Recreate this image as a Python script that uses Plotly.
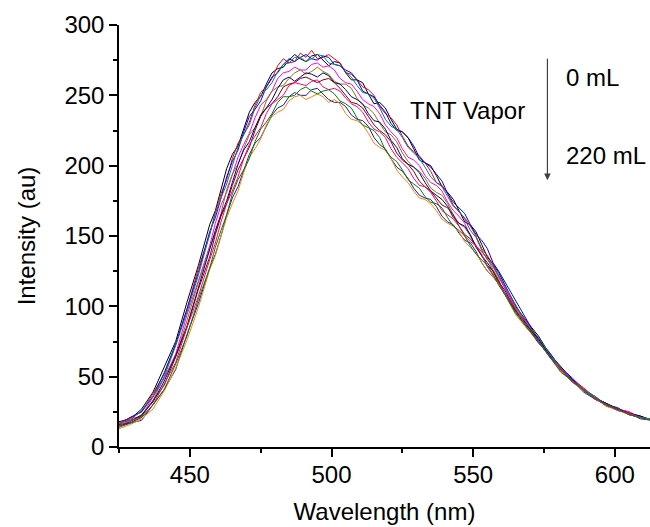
import plotly.graph_objects as go

# Wavelength sampling (nm): 4 nm on the flanks, 2 nm across the noisy peak region
wavelength = ([425, 429, 433, 437, 441, 445, 449, 453, 457]
              + list(range(459, 562, 2))
              + [565, 569, 573, 577, 581, 585, 589, 593, 597, 601, 605, 609, 613])

# Intensity (au) of each spectrum
black = [18, 20, 27, 39, 57, 75, 103, 129, 158,
         168, 183, 198, 208, 214, 226, 238, 245, 249, 258, 266, 269, 270, 275, 279, 276, 274, 278, 279, 275,
         271, 274, 273, 266, 261, 261, 259, 251, 244, 245, 241, 233, 226, 224, 220, 212, 204, 202, 200, 193,
         185, 181, 176, 168, 160, 158, 153, 144, 135, 130, 124, 116,
         100, 89, 79, 66, 57, 48, 40, 35, 31, 27, 24, 22, 19]
red = [17, 21, 25, 38, 52, 73, 98, 127, 151,
       167, 180, 190, 205, 216, 222, 231, 243, 252, 256, 262, 271, 276, 273, 274, 280, 277, 282, 276, 277,
       279, 276, 273, 266, 265, 261, 256, 254, 250, 242, 237, 234, 229, 221, 214, 210, 207, 202, 196, 188,
       186, 180, 172, 167, 163, 157, 150, 141, 136, 130, 121, 114,
       99, 89, 77, 67, 55, 48, 42, 35, 29, 27, 25, 21, 19]
blue = [16, 21, 25, 36, 53, 73, 98, 124, 153,
        163, 177, 192, 203, 211, 224, 235, 240, 246, 256, 263, 266, 272, 276, 274, 277, 279, 276, 275, 278,
        277, 272, 271, 268, 266, 261, 253, 251, 249, 243, 238, 230, 225, 224, 220, 214, 206, 202, 199, 194,
        189, 180, 174, 170, 166, 158, 151, 147, 141, 131, 125, 118,
        104, 90, 76, 67, 56, 49, 41, 34, 30, 28, 23, 21, 19]
dark_cyan = [17, 19, 26, 36, 50, 72, 96, 122, 151,
             166, 177, 187, 200, 213, 222, 229, 241, 250, 254, 259, 267, 272, 273, 277, 277, 274, 276, 279, 278,
             273, 272, 271, 267, 263, 257, 252, 251, 248, 241, 233, 228, 226, 220, 213, 209, 205, 199, 192, 188,
             185, 178, 171, 168, 162, 154, 149, 140, 133, 129, 122, 114,
             100, 87, 78, 66, 56, 47, 41, 36, 30, 26, 24, 21, 20]
magenta = [17, 19, 22, 36, 49, 66, 94, 118, 143,
           159, 172, 181, 193, 206, 215, 223, 234, 243, 247, 253, 262, 266, 267, 270, 268, 268, 272, 273, 270,
           271, 268, 262, 259, 258, 253, 247, 244, 242, 237, 229, 224, 220, 212, 206, 204, 200, 193, 188, 186,
           182, 174, 168, 164, 159, 150, 143, 139, 134, 128, 121, 113,
           99, 88, 76, 65, 56, 48, 41, 36, 30, 27, 25, 21, 19]
olive = [16, 20, 22, 33, 50, 64, 90, 117, 141,
         152, 166, 183, 194, 201, 212, 222, 227, 235, 246, 253, 256, 257, 262, 266, 268, 265, 267, 270, 267,
         265, 260, 258, 258, 255, 248, 243, 241, 237, 230, 224, 222, 217, 209, 203, 199, 196, 191, 184, 181,
         179, 173, 165, 159, 156, 150, 143, 139, 134, 126, 119, 110,
         99, 87, 75, 66, 55, 47, 41, 34, 30, 27, 24, 21, 19]
navy = [15, 18, 23, 32, 47, 65, 86, 113, 140,
        154, 165, 175, 188, 201, 211, 217, 227, 236, 241, 247, 255, 261, 263, 260, 263, 266, 265, 263, 266,
        264, 259, 258, 254, 249, 247, 244, 237, 232, 231, 226, 218, 213, 205, 201, 199, 195, 188, 182, 179,
        176, 171, 163, 159, 157, 151, 142, 136, 131, 125, 117, 112,
        97, 86, 77, 65, 54, 48, 40, 35, 29, 27, 24, 22, 19]
wine = [16, 17, 22, 33, 44, 64, 85, 112, 135,
        151, 164, 173, 186, 197, 205, 213, 225, 235, 241, 244, 249, 256, 258, 259, 262, 263, 261, 259, 261,
        262, 259, 255, 250, 245, 244, 241, 235, 229, 225, 222, 217, 209, 204, 201, 196, 189, 185, 182, 177,
        172, 170, 165, 157, 151, 148, 143, 136, 129, 125, 118, 109,
        97, 87, 75, 64, 55, 48, 40, 35, 31, 27, 23, 21, 19]
pink = [15, 19, 21, 30, 45, 60, 85, 107, 133,
        145, 160, 173, 182, 192, 205, 215, 221, 227, 237, 244, 247, 250, 257, 259, 258, 257, 260, 261, 256,
        254, 255, 253, 248, 244, 242, 238, 231, 226, 224, 220, 212, 206, 202, 198, 191, 186, 185, 181, 175,
        168, 165, 162, 157, 150, 146, 143, 137, 128, 122, 117, 110,
        98, 85, 75, 64, 55, 46, 41, 34, 30, 26, 24, 21, 19]
green = [14, 17, 21, 30, 41, 59, 79, 105, 127,
         142, 154, 165, 180, 190, 197, 205, 217, 226, 231, 237, 245, 249, 249, 250, 254, 256, 253, 251, 253,
         254, 251, 246, 244, 241, 234, 229, 227, 225, 220, 211, 206, 203, 197, 190, 187, 184, 178, 174, 173,
         170, 163, 157, 154, 150, 143, 137, 133, 129, 123, 115, 109,
         95, 85, 75, 64, 53, 47, 40, 35, 30, 27, 23, 21, 19]
royal = [15, 17, 19, 30, 41, 55, 80, 102, 127,
         137, 150, 165, 177, 185, 196, 208, 216, 220, 228, 236, 241, 243, 249, 252, 250, 250, 254, 255, 251,
         247, 245, 245, 242, 236, 233, 232, 228, 220, 215, 212, 205, 199, 196, 191, 184, 179, 177, 176, 171,
         164, 160, 158, 152, 147, 145, 139, 131, 125, 121, 116, 109,
         96, 85, 74, 65, 54, 47, 39, 34, 31, 27, 24, 20, 19]
orange = [13, 16, 20, 27, 40, 56, 76, 99, 126,
          136, 150, 163, 173, 182, 195, 206, 212, 219, 229, 235, 238, 240, 246, 249, 250, 247, 249, 251, 249,
          245, 247, 244, 237, 233, 232, 229, 223, 216, 213, 211, 205, 197, 192, 188, 182, 177, 176, 173, 168,
          162, 159, 157, 153, 146, 142, 138, 131, 125, 121, 116, 109,
          94, 84, 75, 64, 54, 46, 40, 35, 29, 26, 23, 21, 19]

series = [
    (black, "#000000"), (red, "#FF0000"), (blue, "#0000FF"), (magenta, "#FF00FF"),
    (olive, "#808000"), (navy, "#000080"), (wine, "#800000"), (dark_cyan, "#008080"),
    (royal, "#1C1CB4"), (orange, "#FF8000"), (pink, "#FF0080"), (green, "#008000"),
]

x_ticks = [450, 500, 550, 600]
y_ticks = [0, 50, 100, 150, 200, 250, 300]

FONT = "Arial, Liberation Sans, sans-serif"
FS = 24

fig = go.Figure()
for vals, col in series:
    fig.add_trace(go.Scatter(x=wavelength, y=vals, mode="lines",
                             line=dict(color=col, width=1), showlegend=False))

fig.update_layout(
    width=650, height=527,
    margin=dict(l=119, r=0, t=25, b=80, pad=0),
    paper_bgcolor="white", plot_bgcolor="white",
    font=dict(family=FONT, size=FS, color="black"),
    showlegend=False,
)
fig.update_xaxes(
    range=[425, 612.4], tickvals=x_ticks, ticks="outside", ticklen=8, tickwidth=1.5,
    tickcolor="black", showline=True, linecolor="black", linewidth=1.5,
    showgrid=False, zeroline=False, ticklabelstandoff=-3,
    minor=dict(dtick=25, tick0=0, ticks="outside", ticklen=4, tickwidth=1.5, tickcolor="black"),
    title=dict(text="Wavelength (nm)", standoff=17, font=dict(size=FS)),
    tickfont=dict(size=FS),
)
fig.update_yaxes(
    range=[0, 300], tickvals=y_ticks, ticks="outside", ticklen=8, tickwidth=1.5,
    tickcolor="black", showline=True, linecolor="black", linewidth=1.5,
    showgrid=False, zeroline=False,
    minor=dict(dtick=25, tick0=0, ticks="outside", ticklen=4, tickwidth=1.5, tickcolor="black"),
    title=dict(text="Intensity (au)", standoff=22, font=dict(size=FS)),
    tickfont=dict(size=FS),
)

fig.add_annotation(x=576.2, y=189.7, ax=576.2, ay=277, xref="x", yref="y",
                   axref="x", ayref="y", text="", showarrow=True,
                   arrowhead=2, arrowsize=1.1, arrowwidth=1.2, arrowcolor="#404040")
fig.add_annotation(x=582, y=263, xref="x", yref="y", text="0 mL", showarrow=False,
                   xanchor="left", yanchor="middle", font=dict(size=FS))
fig.add_annotation(x=582, y=207.5, xref="x", yref="y", text="220 mL", showarrow=False,
                   xanchor="left", yanchor="middle", font=dict(size=FS))
fig.add_annotation(x=548, y=239, xref="x", yref="y", text="TNT Vapor", showarrow=False,
                   xanchor="center", yanchor="middle", font=dict(size=FS))

fig.write_html("out.html")
